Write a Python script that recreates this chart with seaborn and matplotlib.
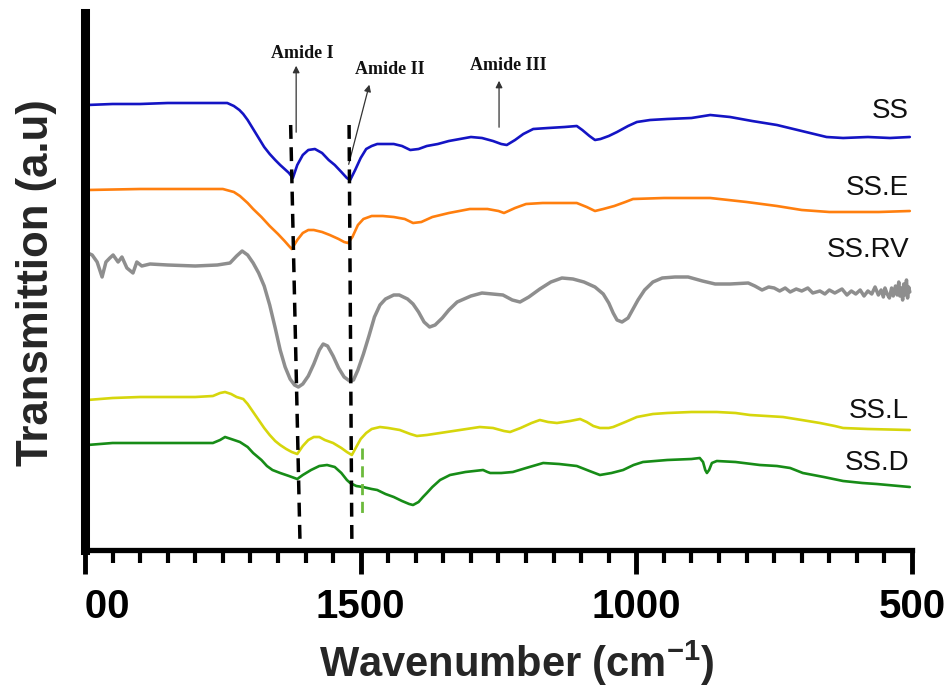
import numpy as np
import pandas as pd
import matplotlib
matplotlib.use("Agg")
import matplotlib.pyplot as plt
from matplotlib.ticker import MultipleLocator, FixedLocator
from matplotlib.patches import Rectangle
import seaborn as sns

# ---------------- data ----------------
ss_wn = [1996, 1950, 1900, 1850, 1800, 1760, 1742, 1730, 1720, 1713, 1705, 1695, 1685,
         1675, 1665, 1655, 1646, 1638, 1630, 1623, 1615, 1605, 1595, 1583, 1570, 1558,
         1547, 1535, 1525, 1519, 1510, 1500, 1490, 1480, 1470, 1455, 1440, 1425, 1410,
         1395, 1380, 1360, 1340, 1320, 1300, 1280, 1260, 1245, 1235, 1220, 1205, 1187,
         1160, 1130, 1108, 1098, 1085, 1075, 1065, 1050, 1035, 1015, 999, 975, 944, 900,
         866, 830, 790, 745, 715, 685, 655, 625, 580, 540, 504]
ss_val = [445, 446, 446, 447, 447, 447, 447, 444, 440, 436, 430, 421, 412,
          403, 396, 390, 385, 381, 377, 372, 385, 395, 400, 401, 397, 390,
          385, 378, 372, 370, 380, 392, 401, 404, 406, 406, 406, 404, 400,
          401, 404, 406, 409, 411, 413, 412, 409, 406, 405, 410, 416, 421,
          422, 423, 424, 420, 414, 410, 411, 414, 418, 424, 428, 430, 431, 432,
          435, 433, 429, 425, 421, 417, 413, 412, 413, 412, 413]

sse_wn = [1996, 1900, 1800, 1750, 1730, 1719, 1705, 1695, 1680, 1665, 1650, 1638, 1630,
          1625, 1615, 1605, 1595, 1585, 1570, 1556, 1540, 1530, 1523, 1515, 1505, 1495,
          1480, 1460, 1440, 1420, 1405, 1390, 1370, 1340, 1302, 1270, 1250, 1240, 1220,
          1200, 1170, 1130, 1108, 1090, 1075, 1060, 1040, 1020, 1006, 950, 866, 800, 745,
          700, 650, 560, 504]
sse_val = [360, 361, 361, 361, 358, 354, 347, 341, 333, 324, 316, 309, 304,
           301, 310, 317, 320, 320, 318, 315, 311, 308, 307, 313, 325, 331,
           334, 334, 333, 331, 327, 328, 333, 337, 341, 341, 339, 337, 342,
           346, 347, 347, 347, 343, 339, 341, 344, 348, 351, 352, 352, 348, 344,
           340, 338, 338, 339]

ssrv_wn = [1995, 1987, 1978, 1969, 1962, 1955, 1949, 1940, 1933, 1924, 1913, 1906, 1897,
           1882, 1850, 1800, 1760, 1737, 1725, 1715, 1705, 1695, 1685, 1675, 1665, 1655,
           1646, 1637, 1628, 1620, 1613, 1605, 1595, 1585, 1575, 1568, 1560, 1550, 1540,
           1530, 1520, 1513, 1505, 1495, 1485, 1475, 1465, 1455, 1440, 1430, 1415, 1405,
           1395, 1385, 1375, 1365, 1352, 1340, 1325, 1300, 1280, 1260, 1242, 1225, 1211,
           1195, 1175, 1155, 1135, 1115, 1095, 1075, 1060, 1050, 1042, 1035, 1026, 1015,
           1005, 997, 985, 970, 953, 930, 906, 880, 857, 830, 797, 785, 772, 760, 750,
           740, 730, 721, 710, 700, 689, 680, 667, 658, 650, 640, 627, 618, 610, 602,
           594, 587, 580, 573, 567, 561, 556, 552, 549, 545, 541, 537, 534, 530, 527,
           524, 522, 519, 517, 515, 513, 510, 508, 506, 504]
ssrv_val = [297, 295, 288, 273, 288, 292, 295, 288, 293, 282, 277, 288, 284,
            286, 285, 284, 285, 287, 294, 299, 295, 287, 277, 264, 245, 222,
            200, 183, 171, 165, 163, 166, 174, 186, 200, 206, 204, 194, 182,
            173, 169, 170, 180, 196, 214, 233, 245, 251, 255, 255, 251, 246,
            238, 228, 223, 225, 232, 240, 248, 254, 257, 256, 255, 250, 248,
            253, 261, 268, 272, 271, 268, 263, 256, 247, 237, 230, 228, 232,
            242, 250, 260, 268, 272, 273, 273, 269, 266, 266, 267, 264, 260, 263, 262,
            259, 262, 258, 261, 259, 262, 257, 259, 256, 260, 257, 261, 255, 259, 256,
            260, 254, 259, 256, 263, 255, 260, 253, 262, 256, 252, 262, 254, 264, 255,
            268, 254, 262, 250, 266, 255, 270, 252, 263, 258]

ssl_wn = [1996, 1950, 1900, 1850, 1800, 1768, 1755, 1746, 1735, 1725, 1713, 1705, 1695,
          1685, 1675, 1665, 1655, 1646, 1635, 1625, 1615, 1605, 1595, 1585, 1575, 1565,
          1550, 1535, 1525, 1516, 1508, 1500, 1490, 1480, 1465, 1450, 1429, 1410, 1398,
          1380, 1356, 1320, 1284, 1260, 1240, 1229, 1210, 1190, 1175, 1160, 1144, 1120,
          1102, 1090, 1078, 1066, 1050, 1042, 1020, 999, 970, 944, 900, 854, 820, 794,
          734, 700, 667, 640, 625, 580, 504]
ssl_val = [150, 152, 153, 153, 153, 154, 157, 158, 156, 153, 151, 146, 138,
           130, 122, 115, 109, 105, 101, 98, 96, 104, 110, 113, 113, 110,
           107, 102, 98, 95, 103, 111, 117, 121, 123, 122, 120, 116, 114,
           115, 117, 120, 123, 122, 119, 118, 122, 127, 130, 128, 127, 129,
           131, 128, 124, 122, 122, 123, 128, 133, 136, 137, 138, 138, 137, 135,
           133, 130, 127, 124, 122, 121, 120]

ssd_wn = [1996, 1950, 1900, 1850, 1800, 1768, 1755, 1746, 1735, 1719, 1705, 1695, 1680,
          1670, 1660, 1646, 1630, 1615, 1605, 1590, 1575, 1561, 1547, 1535, 1525, 1519,
          1508, 1496, 1480, 1470, 1455, 1440, 1425, 1412, 1405, 1395, 1387, 1380, 1370,
          1356, 1338, 1310, 1278, 1270, 1265, 1245, 1224, 1200, 1169, 1140, 1108, 1085,
          1066, 1045, 1024, 1005, 988, 944, 900, 885, 879, 875, 872, 868, 863, 854, 820,
          776, 745, 721, 698, 660, 625, 590, 564, 504]
ssd_val = [105, 107, 107, 107, 107, 107, 110, 113, 111, 108, 103, 97, 90,
           84, 80, 77, 74, 71, 75, 80, 84, 85, 83, 77, 70, 67,
           64, 63, 61, 60, 56, 53, 49, 46, 45, 48, 53, 57, 63,
           70, 75, 78, 80, 78, 77, 77, 78, 82, 87, 86, 84, 79,
           75, 77, 80, 85, 88, 90, 91, 92, 88, 80, 77, 80, 87, 89, 88,
           85, 84, 82, 77, 73, 69, 67, 66, 63]

series_names = ["SS", "SS.E", "SS.RV", "SS.L", "SS.D"]
series_colors = ["#1414c4", "#ff7f0e", "#8e8e8e", "#d6d60c", "#178c17"]
label_y = [439, 362, 300, 139, 87]

x_ticks = [2000, 1500, 1000, 500]
x_tick_labels = ["2000", "1500", "1000", "500"]

amide_labels = ["Amide I", "Amide II", "Amide III"]

# ---------------- build frame ----------------
frames = []
for name, wn, val in zip(series_names,
                         [ss_wn, sse_wn, ssrv_wn, ssl_wn, ssd_wn],
                         [ss_val, sse_val, ssrv_val, ssl_val, ssd_val]):
    frames.append(pd.DataFrame({"wn": wn, "val": val, "sample": name}))
df = pd.concat(frames, ignore_index=True)

sns.set_style("white")
plt.rcParams["font.family"] = ["Liberation Sans", "DejaVu Sans"]
plt.rcParams["mathtext.fontset"] = "custom"
plt.rcParams["mathtext.rm"] = "Liberation Sans"
plt.rcParams["mathtext.bf"] = "Liberation Sans:bold"

fig = plt.figure(figsize=(9.5, 6.86), dpi=100)
ax = fig.add_axes([85 / 950, 136 / 686, 827 / 950, 537 / 686])

for name, col in zip(series_names, series_colors):
    sub = df[df["sample"] == name]
    sns.lineplot(data=sub, x="wn", y="val", ax=ax, color=col,
                 lw=2.5 if name == "SS.RV" else 1.9, sort=False,
                 estimator=None, legend=False)

ax.set_xlim(2000, 500)
ax.set_ylim(0, 537)

# series labels
for name, yv in zip(series_names, label_y):
    ax.text(505, yv, name, ha="right", va="center", fontsize=20, color="#111111")

# dashed reference lines
ax.plot([1627, 1610], [425, 7], color="black", lw=2.5, ls=(0, (4, 2.4)), zorder=4)
ax.plot([1521, 1516], [425, 10], color="black", lw=2.5, ls=(0, (4, 2.4)), zorder=4)
ax.plot([1498, 1498], [102, 32], color="#6cba3c", lw=2.0, ls=(0, (4, 2.4)), zorder=4)

# amide annotations
ann_kw = dict(fontsize=13, fontweight="bold", family="Liberation Serif",
              ha="center", va="center", color="#111111")
arrow_kw = dict(arrowstyle="-|>", color="#333333", lw=0.9, mutation_scale=10)
ax.annotate("", xy=(1617, 487), xytext=(1617, 415), arrowprops=arrow_kw)
ax.text(1605, 497, amide_labels[0], **ann_kw)
ax.annotate("", xy=(1483, 468), xytext=(1523, 383), arrowprops=arrow_kw)
ax.text(1447, 480, amide_labels[1], **ann_kw)
ax.annotate("", xy=(1249, 472), xytext=(1249, 420), arrowprops=arrow_kw)
ax.text(1233, 484, amide_labels[2], **ann_kw)

# axes styling
for s in ["top", "right"]:
    ax.spines[s].set_visible(False)
ax.spines["left"].set_linewidth(6.5)
ax.spines["bottom"].set_linewidth(3.8)
ax.spines["left"].set_color("black")
ax.spines["bottom"].set_color("black")
ax.set_yticks([])
ax.xaxis.set_major_locator(FixedLocator(x_ticks))
ax.set_xticklabels(x_tick_labels)
ax.xaxis.set_minor_locator(MultipleLocator(50))
ax.tick_params(axis="x", which="both", bottom=True, top=False)
ax.tick_params(axis="x", which="major", direction="out", length=17, width=3.5,
               pad=10, labelsize=29, colors="black")
ax.tick_params(axis="x", which="minor", direction="out", length=9, width=3,
               colors="black")
for t in ax.get_xticklabels():
    t.set_fontweight("bold")

ax.set_xlabel("")
ax.set_ylabel("")
fig.text(517 / 950, 1 - 663 / 686, r"Wavenumber (cm$^{\mathbf{-1}}$)", ha="center",
         va="center", fontsize=30, fontweight="bold")
fig.text(37 / 950, 1 - 283 / 686, "Transmittion (a.u)", ha="center", va="center",
         rotation=90, fontsize=31.5, fontweight="bold")

# the left part of the first tick label is cut off in the reference
fig.patches.append(Rectangle((0, 0), 86 / 950, (686 - 580) / 686,
                             transform=fig.transFigure, facecolor="white",
                             edgecolor="none", zorder=10))

fig.savefig("out.png", dpi=100)
